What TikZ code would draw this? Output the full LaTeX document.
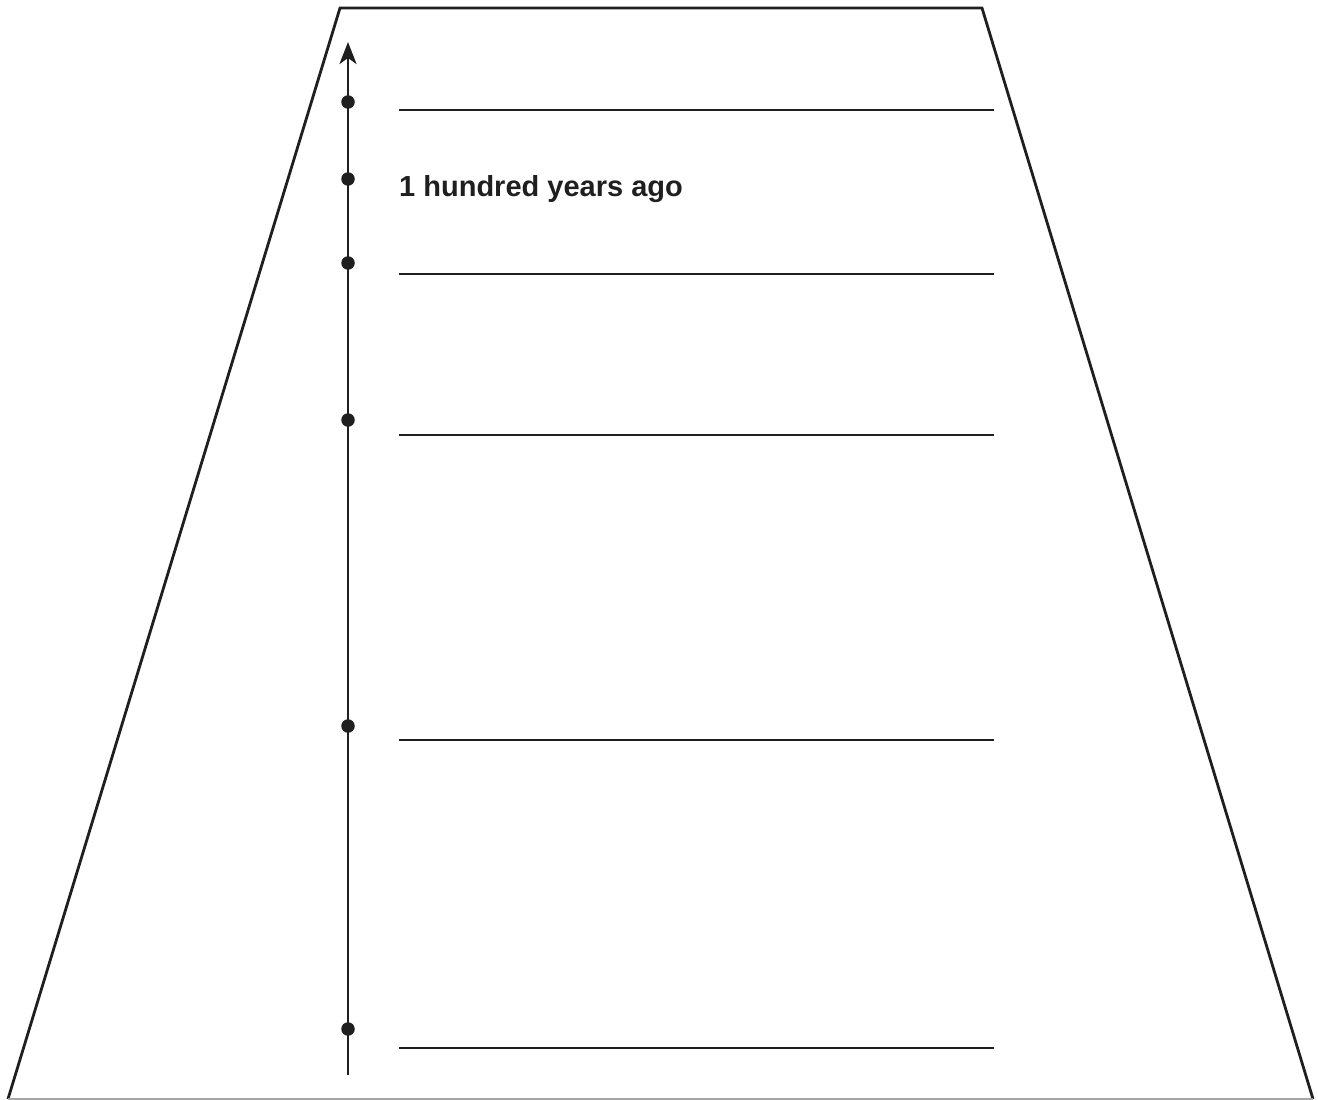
\documentclass[tikz,border=0pt]{standalone}
\usepackage{fontspec}
\setmainfont{Liberation Sans}
\usetikzlibrary{arrows.meta}
\begin{document}
\begin{tikzpicture}[x=1pt,y=-1pt,
  edge/.style={line width=2.8pt,color=black!88},
  dot/.style={circle,fill=black!88,inner sep=0pt,minimum size=13.5pt},
  lbl/.style={anchor=base west,inner sep=0pt,font=\fontsize{29}{34}\selectfont\bfseries,text=black!88}]
\useasboundingbox (0,0) rectangle (1318,1100);
% trapezoid
\coordinate (tl) at (340,8);
\coordinate (tr) at (982,8);
\coordinate (bl) at (8,1099);
\coordinate (br) at (1313,1099);
\draw[edge,line join=miter] (bl) -- (tl) -- (tr) -- (br);
\draw[line width=2pt,color=black!35] (bl) -- (br);
% axis
\coordinate (abot) at (348,1075);
\coordinate (atop) at (348,42);
\draw[edge,-{Stealth[length=22pt,width=17pt,inset=6pt]}] (abot) -- (atop);
\foreach \n/\y in {1/102,2/179,3/263,4/420,5/726,6/1029}{
  \node[dot] (d\n) at (348,\y) {};
}
% lines
\foreach \n/\y in {1/110,2/274,3/435,4/740,5/1048}{
  \coordinate (l\n a) at (399,\y);
  \coordinate (l\n b) at (994,\y);
  \draw[edge] (l\n a) -- (l\n b);
}
\node[lbl] (t1) at (399,196) {1 hundred years ago};
\end{tikzpicture}
\end{document}
